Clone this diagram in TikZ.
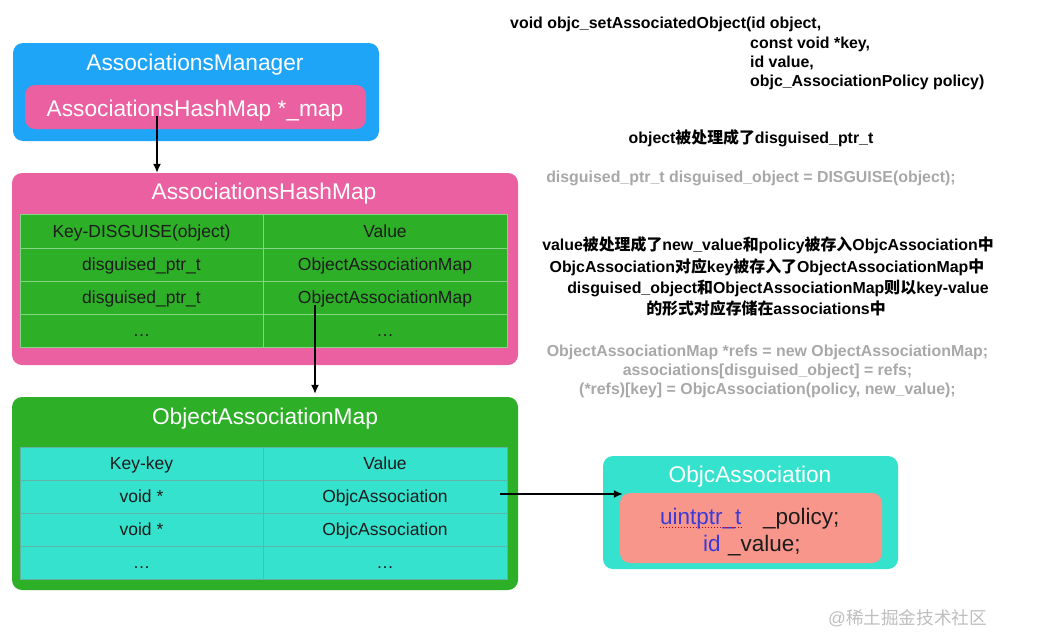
\documentclass[tikz,border=0pt]{standalone}
\usepackage{fontspec}
\setmainfont{Liberation Sans}
\newfontfamily\cjk{Noto Sans CJK SC}
\usetikzlibrary{arrows.meta}
\definecolor{mgrblue}{HTML}{1FA5F7}
\definecolor{hmpink}{HTML}{EB60A0}
\definecolor{tgreen}{HTML}{2DAF27}
\definecolor{tgreenline}{HTML}{86D486}
\definecolor{tcyan}{HTML}{34E2CE}
\definecolor{tcyanline}{HTML}{5FB5A5}
\definecolor{salmon}{HTML}{F8968C}
\definecolor{codegray}{HTML}{A8A8A8}
\definecolor{kwblue}{HTML}{3A3AD8}
\definecolor{wmgray}{HTML}{BEBEBE}
\definecolor{txt}{HTML}{1C1C1C}
\newcommand{\zh}[1]{{\cjk #1}}
\newcommand{\myfs}[1]{\fontsize{#1}{#1}\selectfont}
\begin{document}
\begin{tikzpicture}[x=1pt,y=-1pt,
  panel/.style={rounded corners=10pt, inner sep=0pt, draw=none},
  title/.style={anchor=base, text=white, font=\myfs{22.7}},
  cellA/.style={draw=tgreenline, line width=0.8pt, fill=tgreen, inner sep=0pt,
     text=txt, font=\myfs{17.5}, text height=12.6pt, text depth=0pt},
  cellB/.style={draw=tcyanline, line width=0.8pt, fill=tcyan, inner sep=0pt,
     text=txt, font=\myfs{17.5}, text height=12.6pt, text depth=0pt},
  note/.style={anchor=base, font=\bfseries\myfs{15.9}, inner sep=0pt},
  code/.style={anchor=base, font=\bfseries\myfs{15.9}, text=codegray, inner sep=0pt},
  arr/.style={-{Latex[length=9pt,width=8pt]}, line width=1.4pt, black}]
\useasboundingbox (0,0) rectangle (1061,632);
\fill[white] (0,0) rectangle (1061,632);

% AssociationsManager
\node[panel, fill=mgrblue, minimum width=366pt, minimum height=98pt] (mgr) at (196,92) {};
\node[title] (mgrt) at (195,70) {AssociationsManager};
\node[panel, fill=hmpink, minimum width=341pt, minimum height=44pt] (mapin) at (195.5,107) {};
\node[title] (mapt) at (195,116) {AssociationsHashMap *\_map};

% AssociationsHashMap
\node[panel, fill=hmpink, minimum width=506pt, minimum height=192pt] (hm) at (265,269) {};
\node[title] (hmt) at (264,199) {AssociationsHashMap};
\node[cellA, minimum width=243pt, minimum height=34pt] (h11) at (141.5,231) {Key-DISGUISE(object)};
\node[cellA, minimum width=244pt, minimum height=34pt] (h12) at (385,231) {Value};
\node[cellA, minimum width=243pt, minimum height=33pt] (h21) at (141.5,264.5) {disguised\_ptr\_t};
\node[cellA, minimum width=244pt, minimum height=33pt] (h22) at (385,264.5) {ObjectAssociationMap};
\node[cellA, minimum width=243pt, minimum height=33pt] (h31) at (141.5,297.5) {disguised\_ptr\_t};
\node[cellA, minimum width=244pt, minimum height=33pt] (h32) at (385,297.5) {ObjectAssociationMap};
\node[cellA, minimum width=243pt, minimum height=33pt] (h41) at (141.5,330.5) {…};
\node[cellA, minimum width=244pt, minimum height=33pt] (h42) at (385,330.5) {…};

% ObjectAssociationMap
\node[panel, fill=tgreen, minimum width=506pt, minimum height=193pt] (oam) at (265,493.5) {};
\node[title] (oamt) at (265,424) {ObjectAssociationMap};
\node[cellB, minimum width=243pt, minimum height=33pt] (o11) at (141.5,463.5) {Key-key};
\node[cellB, minimum width=244pt, minimum height=33pt] (o12) at (385,463.5) {Value};
\node[cellB, minimum width=243pt, minimum height=33pt] (o21) at (141.5,496.5) {void *};
\node[cellB, minimum width=244pt, minimum height=33pt] (o22) at (385,496.5) {ObjcAssociation};
\node[cellB, minimum width=243pt, minimum height=33pt] (o31) at (141.5,529.5) {void *};
\node[cellB, minimum width=244pt, minimum height=33pt] (o32) at (385,529.5) {ObjcAssociation};
\node[cellB, minimum width=243pt, minimum height=33pt] (o41) at (141.5,562.5) {…};
\node[cellB, minimum width=244pt, minimum height=33pt] (o42) at (385,562.5) {…};

% ObjcAssociation
\node[panel, fill=tcyan, minimum width=295pt, minimum height=113pt] (oa) at (750.5,512.5) {};
\node[title] (oat) at (750,482) {ObjcAssociation};
\node[panel, fill=salmon, minimum width=262pt, minimum height=70pt] (oain) at (751,528) {};
\node[anchor=base west, inner sep=0pt, font=\myfs{22.5}, text=kwblue] (uint) at (660,524) {uintptr\_t};
\node[anchor=base west, inner sep=0pt, font=\myfs{22.5}, text=txt] (pol) at (763,524) {\_policy;};
\node[anchor=base west, inner sep=0pt, font=\myfs{22.5}, text=kwblue] (idk) at (703,551) {id};
\node[anchor=base west, inner sep=0pt, font=\myfs{22.5}, text=txt] (val) at (728,551) {\_value;};
\draw[red!80!black, dotted, line width=1pt] ([yshift=-3pt]uint.base west) -- ([yshift=-3pt]uint.base east);

% arrows
\coordinate (a1s) at (157,116);
\draw[arr] (a1s) -- (a1s |- hm.north);
\coordinate (a2s) at (315,305);
\draw[arr] (a2s) -- ([yshift=3pt]a2s |- oam.north);
\coordinate (a3s) at (500,494);
\draw[arr] (a3s) -- ([xshift=3pt]oain.west |- a3s);

% right-side texts
\node[note, anchor=base west] (sig1) at (510,28) {void objc\_setAssociatedObject(id object,};
\node[note, anchor=base west] (sig2) at (750,48.5) {const void *key,};
\node[note, anchor=base west] (sig3) at (750,67.5) {id value,};
\node[note, anchor=base west] (sig4) at (750,86.5) {objc\_AssociationPolicy policy)};

\node[note] (n1) at (751,143.5) {object\zh{被处理成了}disguised\_ptr\_t};
\node[code] (c1) at (751,182.5) {disguised\_ptr\_t disguised\_object = DISGUISE(object);};

\node[note] (n2) at (768,250.5) {value\zh{被处理成了}new\_value\zh{和}policy\zh{被存入}ObjcAssociation\zh{中}};
\node[note] (n3) at (767,272.5) {ObjcAssociation\zh{对应}key\zh{被存入了}ObjectAssociationMap\zh{中}};
\node[note] (n4) at (778,293.5) {disguised\_object\zh{和}ObjectAssociationMap\zh{则以}key-value};
\node[note] (n5) at (766,314.5) {\zh{的形式对应存储在}associations\zh{中}};

\node[code] (c2) at (767.5,356.5) {ObjectAssociationMap *refs = new ObjectAssociationMap;};
\node[code] (c3) at (767.5,375.5) {associations[disguised\_object] = refs;};
\node[code] (c4) at (767.5,394.5) {(*refs)[key] = ObjcAssociation(policy, new\_value);};

\node[anchor=base west, inner sep=0pt, font=\myfs{17.6}, text=wmgray] (wm) at (828,624) {@\zh{稀土掘金技术社区}};
\end{tikzpicture}
\end{document}
